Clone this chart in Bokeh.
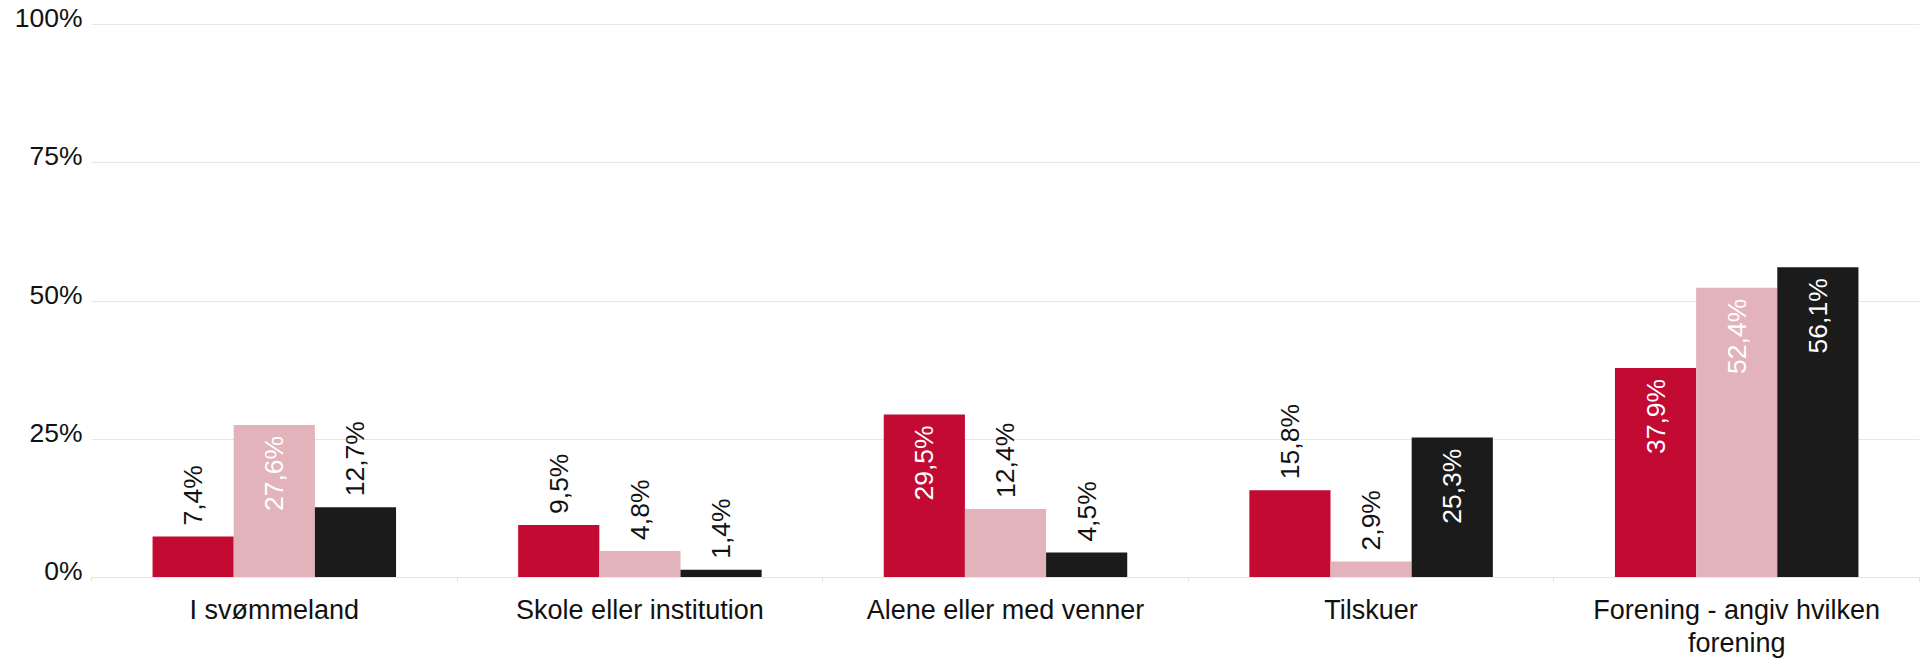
from bokeh.plotting import figure
from bokeh.models import Range1d, LinearAxis, FixedTicker, Grid, ColumnDataSource
from bokeh.core.properties import value
from bokeh.embed import file_html
from bokeh.resources import INLINE

categories = ["I svømmeland", "Skole eller institution", "Alene eller med venner",
              "Tilskuer", "Forening - angiv hvilken\nforening"]
series_a = [7.4, 9.5, 29.5, 15.8, 37.9]
series_b = [27.6, 4.8, 12.4, 2.9, 52.4]
series_c = [12.7, 1.4, 4.5, 25.3, 56.1]
colors = ["#c20a33", "#e3b3bc", "#1b1b1b"]
y_ticks = [0, 25, 50, 75, 100]
y_tick_labels = ["0%", "25%", "50%", "75%", "100%"]

FONT = "Liberation Sans"
BAR_W = 0.222
offsets = [-BAR_W, 0.0, BAR_W]
n = len(categories)
Y_TOP = 102
SHIFT = 1.14   # moves y tick labels ~6px above their gridline

p = figure(width=1928, height=662, x_range=Range1d(0, n), y_range=Range1d(0, Y_TOP),
           x_axis_location=None, y_axis_location=None,
           output_backend="svg", toolbar_location=None,
           min_border_left=91, min_border_right=9, min_border_top=13, min_border_bottom=85)
p.outline_line_color = None
p.xgrid.visible = False
p.ygrid.visible = False

grid = Grid(dimension=1, ticker=FixedTicker(ticks=y_ticks), grid_line_color="#e6e6e6")
p.add_layout(grid, "center")

# y axis on a slightly shifted range so labels sit just above their gridline
p.extra_y_ranges = {"lab": Range1d(-SHIFT, Y_TOP - SHIFT)}
yax = LinearAxis(y_range_name="lab", ticker=FixedTicker(ticks=y_ticks),
                 major_label_overrides=dict(zip(y_ticks, y_tick_labels)))
yax.axis_line_color = None
yax.major_tick_line_color = None
yax.minor_tick_line_color = None
yax.major_tick_out = 0
yax.minor_tick_out = 0
yax.major_label_standoff = 9
yax.major_label_text_font = FONT
yax.major_label_text_font_size = "26.5px"
yax.major_label_text_color = "#111111"
p.add_layout(yax, "left")

# x axis: labels at category centres, small ticks at category boundaries
xax = LinearAxis(ticker=FixedTicker(ticks=[i + 0.5 for i in range(n)],
                                    minor_ticks=list(range(n + 1))),
                 major_label_overrides={i + 0.5: c for i, c in enumerate(categories)})
xax.axis_line_color = "#e6e6e6"
xax.major_tick_line_color = None
xax.major_tick_out = 0
xax.major_tick_in = 0
xax.minor_tick_line_color = "#e0e0e0"
xax.minor_tick_out = 4
xax.minor_tick_in = 0
xax.major_label_standoff = 13
xax.major_label_text_font = FONT
xax.major_label_text_font_size = "27px"
xax.major_label_text_line_height = 1.12
xax.major_label_text_color = "#111111"
p.add_layout(xax, "below")

for k, vals in enumerate([series_a, series_b, series_c]):
    xs = [i + 0.5 + offsets[k] for i in range(n)]
    src = ColumnDataSource(dict(x=xs, top=vals))
    p.vbar(x="x", top="top", width=BAR_W, bottom=0, source=src,
           fill_color=colors[k], line_color=None)
    txt = [f"{v:.1f}".replace(".", ",") + "%" for v in vals]
    inside = [v > 20 for v in vals]
    src_in = ColumnDataSource(dict(x=[x for x, f in zip(xs, inside) if f],
                                   y=[v for v, f in zip(vals, inside) if f],
                                   t=[t for t, f in zip(txt, inside) if f]))
    src_out = ColumnDataSource(dict(x=[x for x, f in zip(xs, inside) if not f],
                                    y=[v for v, f in zip(vals, inside) if not f],
                                    t=[t for t, f in zip(txt, inside) if not f]))
    p.text(x="x", y="y", text="t", source=src_in, angle=1.5708,
           text_align="right", text_baseline="middle", y_offset=11,
           text_font=value(FONT), text_font_size="26.5px", text_color="#ffffff")
    p.text(x="x", y="y", text="t", source=src_out, angle=1.5708,
           text_align="left", text_baseline="middle", y_offset=-11,
           text_font=value(FONT), text_font_size="26.5px", text_color="#111111")

open("out.html", "w").write(file_html(p, INLINE))
